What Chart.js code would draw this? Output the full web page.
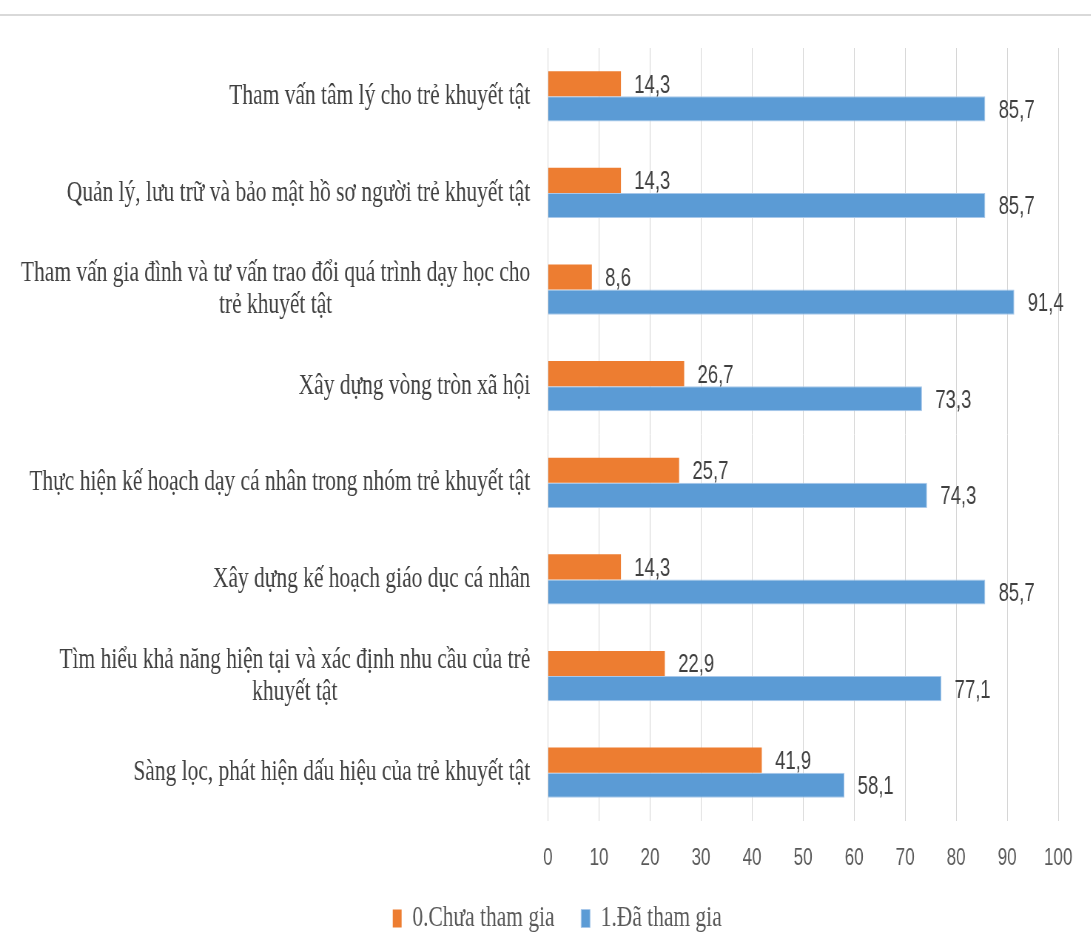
<!DOCTYPE html>
<html lang="vi">
<head>
<meta charset="utf-8">
<title>Tham gia hoạt động hỗ trợ trẻ khuyết tật</title>
<script src="https://cdn.jsdelivr.net/npm/chart.js@4/dist/chart.umd.min.js"></script>
<style>
  html, body { margin: 0; padding: 0; background: #fff; overflow: hidden; }
  #wrap { position: relative; width: 1091px; height: 933px; overflow: hidden; }
  #topLine { position: absolute; left: 0; top: 14px; width: 1091px; height: 2px; background: #d9d9d9; }
  /* chữ hẹp: vẽ rộng rồi nén ngang */
  #chart { position: absolute; left: 0; top: 0; width: 1474px; height: 933px;
           transform: scaleX(0.74); transform-origin: 0 0; }
</style>
</head>
<body>
<div id="wrap">
  <div id="topLine"></div>
  <canvas id="chart" width="1474" height="933"></canvas>
</div>
<script>
// ── DỮ LIỆU ───────────────────────────────────

const HOAT_DONG = [
  "Tham vấn tâm lý cho trẻ khuyết tật",
  "Quản lý, lưu trữ và bảo mật hồ sơ người trẻ khuyết tật",
  ["Tham vấn gia đình và tư vấn trao đổi quá trình dạy học cho", "trẻ khuyết tật"],
  "Xây dựng vòng tròn xã hội",
  "Thực hiện kế hoạch dạy cá nhân trong nhóm trẻ khuyết tật",
  "Xây dựng kế hoạch giáo dục cá nhân",
  ["Tìm hiểu khả năng hiện tại và xác định nhu cầu của trẻ", "khuyết tật"],
  "Sàng lọc, phát hiện dấu hiệu của trẻ khuyết tật",
];

const CHUA_THAM_GIA = [14.3, 14.3, 8.6, 26.7, 25.7, 14.3, 22.9, 41.9];
const DA_THAM_GIA   = [85.7, 85.7, 91.4, 73.3, 74.3, 85.7, 77.1, 58.1];

const X_TICKS = [0, 10, 20, 30, 40, 50, 60, 70, 80, 90, 100];

const SERIF = "'Liberation Serif', 'Times New Roman', serif";
const SANS  = "'Liberation Sans', Arial, sans-serif";

// ── PLUGINS ───────────────────────────────────

// Nhãn danh mục bên trái (dòng nhiều chữ canh giữa với nhau, khối canh phải)
const nhanDanhMuc = {
  id: "nhanDanhMuc",
  afterDraw(chart) {
    const { ctx, scales: { y } } = chart;
    const right = y.right - 24;
    const lineH = 32;
    ctx.save();
    ctx.font = "29px " + SERIF;
    ctx.fillStyle = "#404040";
    ctx.textAlign = "center";
    ctx.textBaseline = "middle";
    HOAT_DONG.forEach((lbl, i) => {
      const lines = Array.isArray(lbl) ? lbl : [lbl];
      const w = Math.max(...lines.map(l => ctx.measureText(l).width));
      const cx = right - w / 2;
      const cy = y.getPixelForTick(i);
      const y0 = cy - (lines.length - 1) * lineH / 2;
      lines.forEach((l, k) => ctx.fillText(l, cx, y0 + k * lineH));
    });
    ctx.restore();
  }
};

// Giá trị ở cuối mỗi thanh
const nhanGiaTri = {
  id: "nhanGiaTri",
  afterDatasetsDraw(chart) {
    const { ctx } = chart;
    ctx.save();
    ctx.font = "25px " + SANS;
    ctx.fillStyle = "#404040";
    ctx.textAlign = "left";
    ctx.textBaseline = "middle";
    chart.data.datasets.forEach((ds, di) => {
      chart.getDatasetMeta(di).data.forEach((bar, i) => {
        const txt = ds.data[i].toFixed(1).replace(".", ",");
        ctx.fillText(txt, bar.x + 18, bar.y + 2);
      });
    });
    ctx.restore();
  }
};

// ── BIỂU ĐỒ ───────────────────────────────────

const ctx = document.getElementById("chart").getContext("2d");
new Chart(ctx, {
  type: "bar",
  data: {
    labels: HOAT_DONG,
    datasets: [
      {
        label: "0.Chưa tham gia",
        data: CHUA_THAM_GIA,
        backgroundColor: "#ED7D31",
        categoryPercentage: 0.52,
        barPercentage: 1,
      },
      {
        label: "1.Đã tham gia",
        data: DA_THAM_GIA,
        backgroundColor: "#5B9BD5",
        borderColor: "#a8c8ea",
        borderWidth: 1,
        categoryPercentage: 0.52,
        barPercentage: 1,
      },
    ]
  },
  options: {
    indexAxis: "y",
    responsive: false,
    animation: false,
    devicePixelRatio: 1,
    layout: { padding: { top: 48, right: 44, left: 76, bottom: -10 } },
    plugins: {
      tooltip: { enabled: false },
      legend: {
        position: "bottom",
        labels: {
          boxWidth: 12,
          boxHeight: 18,
          padding: 36,
          color: "#595959",
          font: { family: SERIF, size: 29 },
        }
      }
    },
    scales: {
      x: {
        min: 0,
        max: 100,
        afterBuildTicks: scale => { scale.ticks = X_TICKS.map(v => ({ value: v })); },
        afterFit: scale => { scale.height = 47; },
        grid: { color: "#d4d4d4", drawTicks: false },
        border: { display: false },
        ticks: {
          padding: 24,
          color: "#595959",
          font: { family: SANS, size: 23 },
        }
      },
      y: {
        afterFit: scale => { scale.width = 664.5; },
        grid: { display: false },
        border: { display: false },
        ticks: { display: false },
      }
    }
  },
  plugins: [nhanDanhMuc, nhanGiaTri]
});
</script>
</body>
</html>
